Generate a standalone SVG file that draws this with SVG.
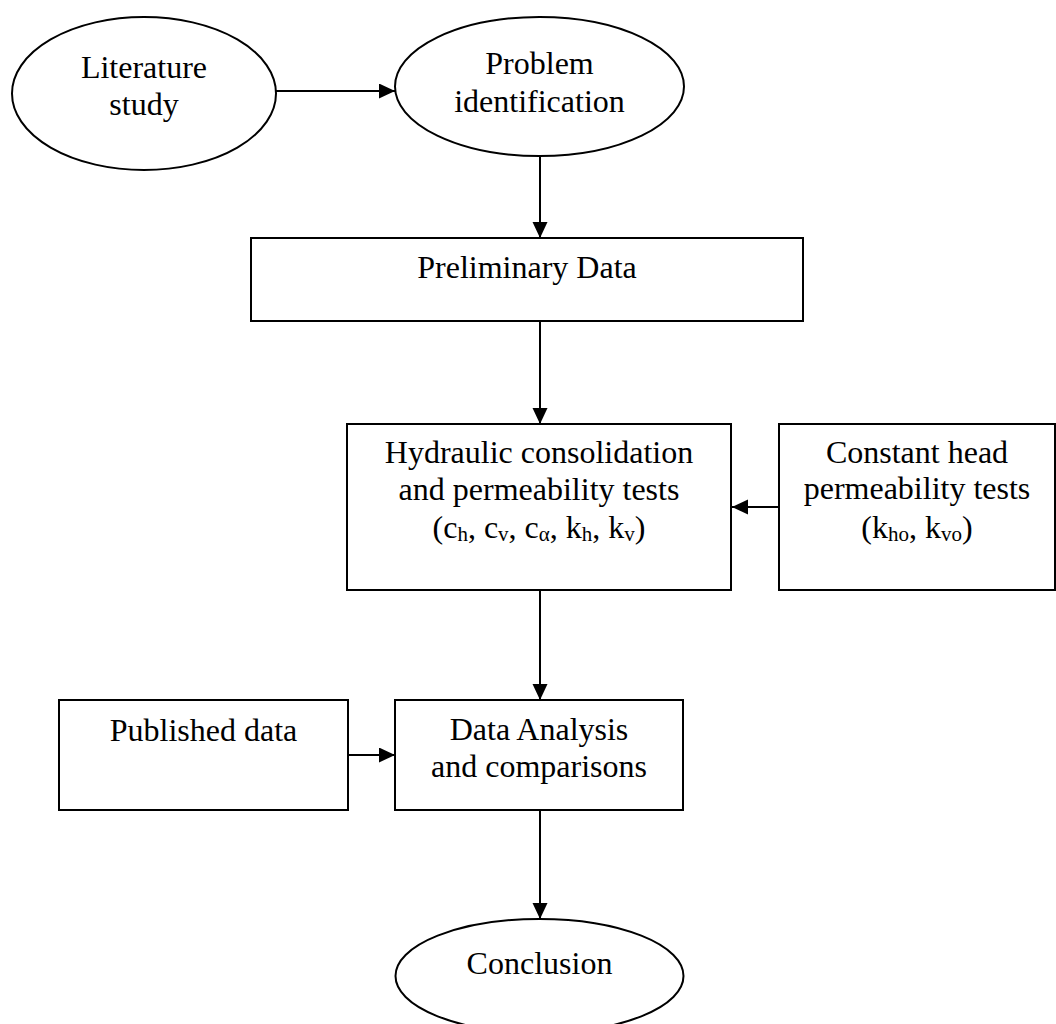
<svg xmlns="http://www.w3.org/2000/svg" width="1056" height="1024" viewBox="0 0 1056 1024">
<defs>
<style>
.shape{fill:#fff;stroke:#000;stroke-width:2}
.lbl{font-family:"Liberation Serif","Times New Roman",serif;font-size:32px;fill:#000;text-anchor:middle}
.sub{font-size:21px}
.conn{fill:none;stroke:#000;stroke-width:2}
</style>
<marker id="arr" markerUnits="userSpaceOnUse" markerWidth="16" markerHeight="16" refX="16" refY="7.5" orient="auto">
<path d="M0,0 L16,7.5 L0,15 z" fill="#000"/>
</marker>
</defs>
<rect width="1056" height="1024" fill="#fff"/>
<g id="connectors">
<line class="conn" x1="276" y1="91" x2="395" y2="91" marker-end="url(#arr)"/>
<line class="conn" x1="540" y1="156" x2="540" y2="238" marker-end="url(#arr)"/>
<line class="conn" x1="540" y1="321" x2="540" y2="424" marker-end="url(#arr)"/>
<line class="conn" x1="779" y1="507" x2="732" y2="507" marker-end="url(#arr)"/>
<line class="conn" x1="540" y1="590" x2="540" y2="700" marker-end="url(#arr)"/>
<line class="conn" x1="348" y1="755" x2="395" y2="755" marker-end="url(#arr)"/>
<line class="conn" x1="540" y1="810" x2="540" y2="919" marker-end="url(#arr)"/>
</g>
<g id="literature">
<ellipse class="shape" cx="144" cy="93.5" rx="132" ry="76.5"/>
<text class="lbl" x="144" y="78">Literature</text>
<text class="lbl" x="144" y="115">study</text>
</g>
<g id="problem">
<ellipse class="shape" cx="539.5" cy="86.5" rx="144.5" ry="69.5"/>
<text class="lbl" x="539.5" y="74">Problem</text>
<text class="lbl" x="539.5" y="112">identification</text>
</g>
<g id="preliminary">
<rect class="shape" x="251" y="238" width="552" height="83"/>
<text class="lbl" x="527" y="278">Preliminary Data</text>
</g>
<g id="hydraulic">
<rect class="shape" x="347" y="424" width="384" height="166"/>
<text class="lbl" x="539" y="463">Hydraulic consolidation</text>
<text class="lbl" x="539" y="500">and permeability tests</text>
<text class="lbl" x="539" y="538">(c<tspan class="sub" dy="3">h</tspan><tspan dy="-3">, c</tspan><tspan class="sub" dy="3">v</tspan><tspan dy="-3">, c</tspan><tspan class="sub" dy="3">α</tspan><tspan dy="-3">, k</tspan><tspan class="sub" dy="3">h</tspan><tspan dy="-3">, k</tspan><tspan class="sub" dy="3">v</tspan><tspan dy="-3">)</tspan></text>
</g>
<g id="constant">
<rect class="shape" x="779" y="424" width="276" height="166"/>
<text class="lbl" x="917" y="463">Constant head</text>
<text class="lbl" x="917" y="499">permeability tests</text>
<text class="lbl" x="917" y="538">(k<tspan class="sub" dy="3">ho</tspan><tspan dy="-3">, k</tspan><tspan class="sub" dy="3">vo</tspan><tspan dy="-3">)</tspan></text>
</g>
<g id="published">
<rect class="shape" x="59" y="700" width="289" height="110"/>
<text class="lbl" x="203.5" y="741">Published data</text>
</g>
<g id="analysis">
<rect class="shape" x="395" y="700" width="288" height="110"/>
<text class="lbl" x="539" y="740">Data Analysis</text>
<text class="lbl" x="539" y="777">and comparisons</text>
</g>
<g id="conclusion">
<ellipse class="shape" cx="539.5" cy="976" rx="144" ry="57"/>
<text class="lbl" x="539.5" y="974">Conclusion</text>
</g>
</svg>
